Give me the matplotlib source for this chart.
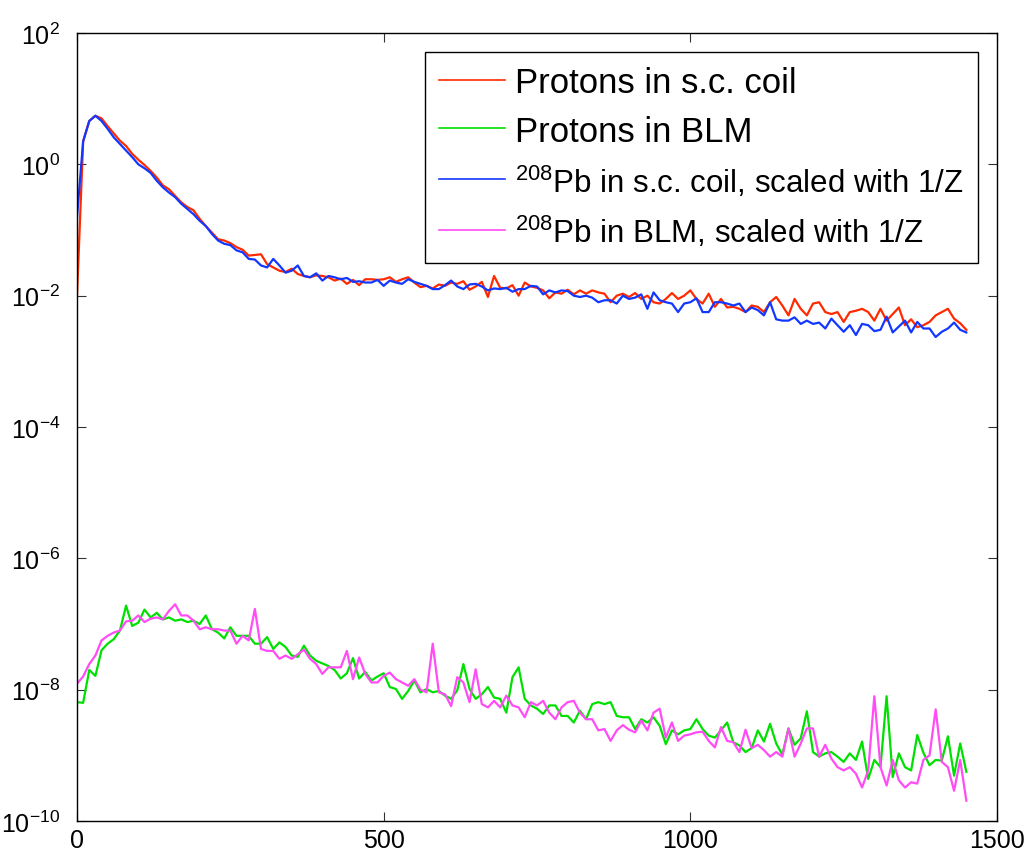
import numpy as np
import matplotlib
matplotlib.use("Agg")
from matplotlib import pyplot as plt

# energy axis, step 10
x = np.arange(0, 1451, 10)

# log10 of the four spectra
red_log = [
    -2.00, 0.35, 0.66, 0.74, 0.70, 0.58, 0.47, 0.36, 0.28, 0.16,
    0.07, -0.01, -0.10, -0.20, -0.32, -0.38, -0.48, -0.58, -0.65, -0.70,
    -0.83, -0.94, -1.04, -1.14, -1.16, -1.20, -1.26, -1.30, -1.39, -1.38,
    -1.37, -1.52, -1.57, -1.62, -1.64, -1.59, -1.67, -1.70, -1.72, -1.69,
    -1.70, -1.72, -1.77, -1.74, -1.82, -1.76, -1.84, -1.75, -1.75, -1.76,
    -1.75, -1.72, -1.79, -1.75, -1.72, -1.80, -1.87, -1.85, -1.89, -1.83,
    -1.85, -1.80, -1.82, -1.78, -1.91, -1.86, -1.79, -2.02, -1.70, -1.88,
    -1.89, -1.84, -2.00, -1.80, -1.86, -1.88, -1.92, -2.04, -1.95, -1.97,
    -1.91, -1.98, -1.92, -1.97, -1.92, -1.95, -1.97, -2.10, -2.00, -1.97,
    -2.02, -1.96, -2.05, -2.00, -2.10, -2.12, -2.05, -1.96, -2.05, -2.00,
    -1.92, -2.05, -2.12, -1.97, -2.17, -2.05, -2.18, -2.17, -2.20, -2.25,
    -2.15, -2.17, -2.25, -2.10, -2.02, -2.15, -2.30, -2.05, -2.20, -2.30,
    -2.12, -2.10, -2.25, -2.28, -2.25, -2.40, -2.25, -2.23, -2.20, -2.25,
    -2.38, -2.20, -2.38, -2.28, -2.18, -2.45, -2.36, -2.48, -2.45, -2.40,
    -2.30, -2.25, -2.20, -2.35, -2.42, -2.52,
]

blue_log = [
    -0.80, 0.35, 0.66, 0.74, 0.66, 0.54, 0.41, 0.31, 0.21, 0.11,
    0.00, -0.06, -0.13, -0.25, -0.35, -0.43, -0.50, -0.60, -0.68, -0.76,
    -0.86, -0.94, -1.06, -1.16, -1.21, -1.23, -1.31, -1.34, -1.44, -1.45,
    -1.54, -1.57, -1.44, -1.54, -1.65, -1.62, -1.54, -1.70, -1.72, -1.66,
    -1.77, -1.70, -1.72, -1.75, -1.73, -1.79, -1.78, -1.80, -1.80, -1.76,
    -1.85, -1.77, -1.80, -1.82, -1.75, -1.79, -1.82, -1.85, -1.90, -1.90,
    -1.84, -1.77, -1.86, -1.90, -1.83, -1.82, -1.86, -1.92, -1.89, -1.90,
    -1.88, -1.94, -1.90, -1.90, -1.85, -1.86, -1.98, -1.92, -1.95, -1.92,
    -1.93, -2.00, -2.02, -2.00, -2.03, -2.10, -2.07, -2.07, -2.12, -2.00,
    -2.05, -2.03, -1.98, -2.20, -1.95, -2.07, -2.10, -2.12, -2.25, -2.12,
    -2.10, -2.04, -2.25, -2.25, -2.10, -2.10, -2.12, -2.15, -2.12, -2.25,
    -2.18, -2.22, -2.30, -2.10, -2.36, -2.38, -2.38, -2.33, -2.43, -2.38,
    -2.43, -2.41, -2.50, -2.35, -2.45, -2.55, -2.45, -2.60, -2.43, -2.45,
    -2.54, -2.52, -2.32, -2.56, -2.47, -2.38, -2.56, -2.40, -2.50, -2.50,
    -2.63, -2.55, -2.50, -2.41, -2.52, -2.56,
]

green_log = [
    -8.19, -8.20, -7.70, -7.79, -7.40, -7.30, -7.23, -7.10, -6.72, -7.03,
    -6.98, -6.78, -6.90, -6.83, -6.93, -6.90, -6.95, -6.93, -6.97, -6.95,
    -7.00, -6.87, -7.08, -7.13, -7.22, -7.05, -7.18, -7.18, -7.18, -7.30,
    -7.30, -7.20, -7.38, -7.28, -7.35, -7.48, -7.50, -7.33, -7.48, -7.56,
    -7.60, -7.64, -7.70, -7.83, -7.75, -7.52, -7.83, -7.73, -7.86, -7.80,
    -7.75, -7.96, -7.99, -8.14, -8.02, -7.86, -8.04, -7.99, -8.04, -8.02,
    -8.09, -8.14, -8.01, -7.61, -7.99, -8.14, -8.07, -7.96, -8.12, -8.14,
    -8.35, -7.81, -7.66, -8.14, -8.24, -8.29, -8.37, -8.24, -8.24, -8.40,
    -8.40, -8.50, -8.32, -8.45, -8.22, -8.19, -8.22, -8.19, -8.40, -8.42,
    -8.42, -8.60, -8.45, -8.50, -8.42, -8.55, -8.83, -8.62, -8.68, -8.62,
    -8.60, -8.45, -8.60, -8.70, -8.73, -8.62, -8.50, -8.80, -8.85, -8.95,
    -8.89, -8.62, -8.79, -8.52, -8.82, -8.99, -8.59, -8.84, -8.74, -8.33,
    -8.95, -9.02, -8.97, -8.95, -9.02, -9.10, -8.97, -9.07, -8.79, -9.36,
    -9.07, -9.18, -8.10, -9.33, -8.97, -9.18, -9.23, -8.69, -8.96, -9.15,
    -9.07, -9.08, -8.71, -9.31, -8.82, -9.25,
]

magenta_log = [
    -7.91, -7.80, -7.61, -7.48, -7.25, -7.18, -7.13, -7.10, -6.96, -6.95,
    -6.87, -6.97, -6.92, -6.90, -6.93, -6.80, -6.70, -6.87, -6.87, -6.95,
    -7.08, -7.05, -7.08, -7.08, -7.10, -7.10, -7.30, -7.18, -7.25, -6.77,
    -7.38, -7.41, -7.41, -7.53, -7.48, -7.53, -7.46, -7.39, -7.53, -7.61,
    -7.76, -7.66, -7.66, -7.66, -7.41, -7.84, -7.51, -7.76, -7.89, -7.89,
    -7.79, -7.74, -7.84, -7.89, -7.94, -7.84, -8.00, -8.04, -7.30, -8.04,
    -8.07, -8.25, -7.81, -7.89, -8.19, -7.69, -8.22, -8.27, -8.17, -8.27,
    -8.09, -8.24, -8.27, -8.42, -8.19, -8.24, -8.17, -8.35, -8.45, -8.27,
    -8.19, -8.17, -8.35, -8.45, -8.45, -8.62, -8.60, -8.78, -8.62, -8.54,
    -8.61, -8.65, -8.47, -8.62, -8.35, -8.29, -8.73, -8.50, -8.78, -8.70,
    -8.68, -8.65, -8.64, -8.78, -8.88, -8.57, -8.78, -8.80, -8.95, -8.61,
    -8.89, -8.84, -8.92, -9.02, -8.95, -9.02, -8.59, -9.02, -8.82, -8.59,
    -8.59, -9.02, -8.84, -9.05, -9.18, -9.23, -9.18, -9.28, -9.49, -9.23,
    -8.10, -9.18, -9.46, -9.07, -9.38, -9.49, -9.41, -9.43, -9.07, -9.00,
    -8.30, -9.10, -9.18, -9.54, -9.07, -9.69,
]

labels = [
    "Protons in s.c. coil",
    "Protons in BLM",
    r"$^{208}$Pb in s.c. coil, scaled with 1/Z",
    r"$^{208}$Pb in BLM, scaled with 1/Z",
]
colors = ["#ff2a00", "#00e000", "#1238ff", "#ff4cf5"]

plt.rcParams["font.family"] = "Liberation Sans"
plt.rcParams["mathtext.fontset"] = "custom"
plt.rcParams["mathtext.rm"] = "Liberation Sans"
plt.rcParams["mathtext.it"] = "Liberation Sans:italic"
plt.rcParams["mathtext.bf"] = "Liberation Sans:bold"
plt.rcParams["axes.unicode_minus"] = False

fig = plt.figure(figsize=(10.25, 8.54), dpi=100)
ax = fig.add_axes([77 / 1025, 1 - 822 / 854, 920 / 1025, 788 / 854])

for vals, lab, col in zip([red_log, green_log, blue_log, magenta_log], labels, colors):
    ax.plot(x, 10.0 ** np.array(vals), color=col, lw=1.6, label=lab)

ax.set_yscale("log")
ax.set_xlim(0, 1500)
ax.set_ylim(1e-10, 1e2)
ax.set_xticks([0, 500, 1000, 1500])
ax.set_yticks([1e-10, 1e-8, 1e-6, 1e-4, 1e-2, 1e0, 1e2])
ax.yaxis.set_minor_locator(matplotlib.ticker.NullLocator())
ax.tick_params(direction="in", length=6.5, width=0.8, labelsize=18,
               top=True, right=True, color="#333333")
ax.tick_params(axis="x", pad=5)
ax.tick_params(axis="y", pad=12)
for s in ax.spines.values():
    s.set_linewidth(1.0)

leg = ax.legend(loc="upper right", fontsize=25, frameon=True, fancybox=False,
                edgecolor="black", framealpha=1, borderaxespad=0.55,
                handlelength=1.9, handletextpad=0.3, labelspacing=0.45,
                borderpad=0.4)
leg.get_frame().set_linewidth(1.0)
for h in leg.get_lines():
    h.set_linewidth(1.2)
# the tex-style entries come out smaller in the original
for t in leg.get_texts()[2:]:
    t.set_fontsize(22.5)

fig.savefig("out.png", dpi=100)
